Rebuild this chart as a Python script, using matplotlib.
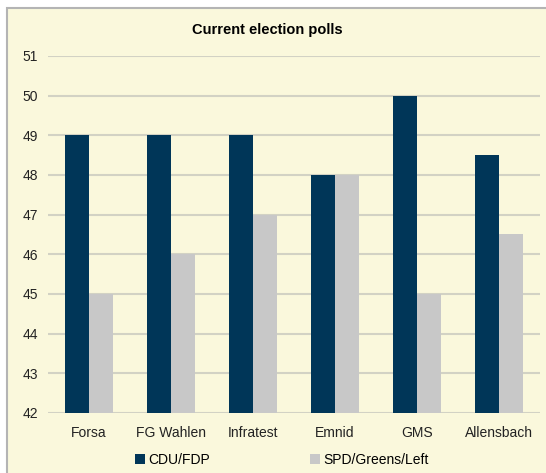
import numpy as np
import matplotlib
matplotlib.use('Agg')
import matplotlib.pyplot as plt
from matplotlib.patches import Rectangle, Patch

plt.rcParams['font.family'] = ['Liberation Sans', 'DejaVu Sans']
plt.rcParams['font.size'] = 10

institutes = ['Forsa', 'FG Wahlen', 'Infratest', 'Emnid', 'GMS', 'Allensbach']
cdu_fdp = [49, 49, 49, 48, 50, 48.5]
spd_greens_left = [45, 46, 47, 48, 45, 46.5]
yticks = [42, 43, 44, 45, 46, 47, 48, 49, 50, 51]

navy = '#003658'
grey = '#c8c8c8'
bg = '#faf8dc'

fig = plt.figure(figsize=(5.46, 4.73), dpi=100)
fig.patch.set_facecolor('white')
# chart frame (background axes)
frame = fig.add_axes([0, 0, 1, 1], zorder=-1)
frame.set_xlim(0, 546)
frame.set_ylim(0, 473)
frame.axis('off')
frame.add_patch(Rectangle((7, -5), 560, 473 - 8 + 5, facecolor=bg,
                          edgecolor='#b4b4b4', linewidth=1.5))

ax = fig.add_axes([48/546, 60/473, 492/546, 357/473])
ax.set_facecolor(bg)
x = np.arange(len(institutes))
w = 0.29
ax.bar(x - w/2, [v - 42 for v in cdu_fdp], w, bottom=42, color=navy, zorder=3)
ax.bar(x + w/2, [v - 42 for v in spd_greens_left], w, bottom=42, color=grey, zorder=3)

ax.set_xlim(-0.5, len(institutes) - 0.5)
ax.set_ylim(42, 51)
ax.set_yticks(yticks)
ax.set_xticks(x)
ax.set_xticklabels(institutes)
ax.grid(axis='y', color='#d2d2c4', linewidth=1.5, zorder=0)
for s in ax.spines.values():
    s.set_visible(False)
ax.tick_params(length=0, colors='#222222')
ax.tick_params(axis='y', pad=7)
ax.tick_params(axis='x', pad=9)

fig.text(267/546, 1 - 30/473, 'Current election polls', ha='center', va='center',
         fontweight='bold', fontsize=10.5)

handles = [Patch(facecolor=navy), Patch(facecolor=grey)]
fig.legend(handles, ['CDU/FDP', 'SPD/Greens/Left'], ncol=2, frameon=False,
           loc='center', bbox_to_anchor=(0.516, 1 - 460/473), handlelength=0.7,
           handleheight=0.7, handletextpad=0.25, columnspacing=7.2)

fig.savefig('out.png', dpi=100, facecolor='white')
